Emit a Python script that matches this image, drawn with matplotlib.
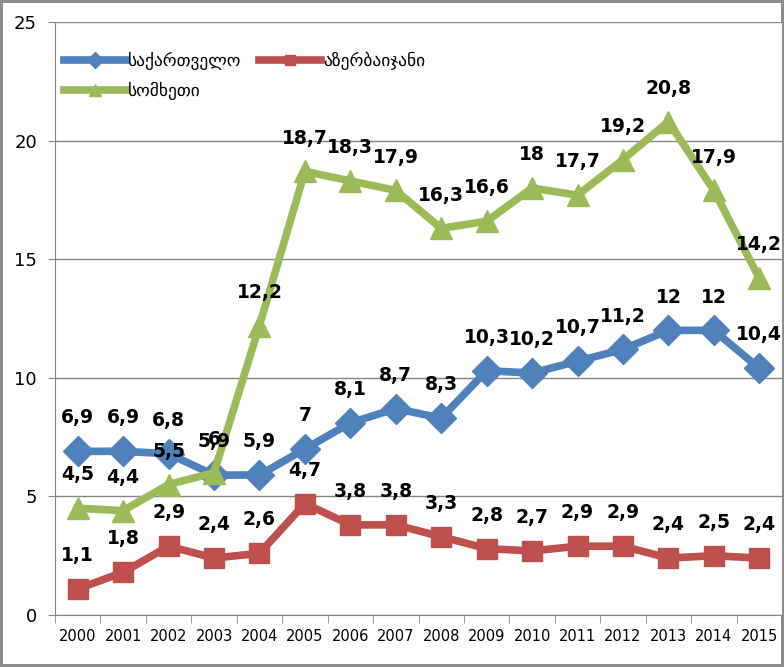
import matplotlib
matplotlib.use("Agg")
import matplotlib.pyplot as plt
import numpy as np

years = [str(y) for y in range(2000, 2016)]
georgia = [6.9, 6.9, 6.8, 5.9, 5.9, 7, 8.1, 8.7, 8.3, 10.3, 10.2, 10.7, 11.2, 12, 12, 10.4]
azerbaijan = [1.1, 1.8, 2.9, 2.4, 2.6, 4.7, 3.8, 3.8, 3.3, 2.8, 2.7, 2.9, 2.9, 2.4, 2.5, 2.4]
armenia = [4.5, 4.4, 5.5, 6, 12.2, 18.7, 18.3, 17.9, 16.3, 16.6, 18, 17.7, 19.2, 20.8, 17.9, 14.2]
names = ["საქართველო", "აზერბაიჯანი", "სომხეთი"]

plt.rcParams["font.family"] = ["DejaVu Sans"]

fig = plt.figure(figsize=(7.84, 6.67), dpi=100)
fig.patch.set_edgecolor("#8c8c8c")
fig.patch.set_linewidth(3)
ax = fig.add_axes([55 / 784, 1 - 615 / 667, 727 / 784, 593 / 667])

x = np.arange(len(years))
series = [
    (georgia, "#4F81BD", "D", 15),
    (azerbaijan, "#C0504D", "s", 14),
    (armenia, "#9BBB59", "^", 16),
]
lines = []
for (vals, color, marker, ms), name in zip(series, names):
    ln, = ax.plot(x, vals, color=color, lw=5.5, marker=marker, ms=ms,
                  markeredgecolor=color, label=name, zorder=3)
    lines.append(ln)
    for xi, v in zip(x, vals):
        txt = f"{v:g}".replace(".", ",")
        ax.annotate(txt, (xi, v), xytext=(0, 24), textcoords="offset points",
                    ha="center", va="center", fontsize=13.5, fontweight="bold",
                    color="black", zorder=4)

ax.set_xlim(-0.5, 15.5)
ax.set_ylim(0, 25)
ax.set_yticks(range(0, 26, 5))
ax.set_xticks(x)
ax.set_xticklabels(years, fontsize=10.5)
ax.set_xticks(np.arange(-0.5, 16, 1), minor=True)
ax.tick_params(axis="x", which="major", length=0, pad=10)
ax.tick_params(axis="x", which="minor", length=6, color="#868686")
ax.tick_params(axis="y", labelsize=13, length=5, color="#868686", pad=8)
ax.grid(axis="y", color="#868686", lw=1)
ax.set_axisbelow(True)
for s in ["top", "right"]:
    ax.spines[s].set_visible(False)
for s in ["left", "bottom"]:
    ax.spines[s].set_color("#868686")

# row-wise order like the original: Georgia, Azerbaijan / Armenia
order = [lines[0], lines[2], lines[1]]
ax.legend(order, [l.get_label() for l in order], loc="upper left",
          bbox_to_anchor=(0.0, 0.965), ncol=2, frameon=False,
          fontsize=12.5, handlelength=3.6, markerscale=0.55, columnspacing=1.0,
          handletextpad=0.1, borderaxespad=0.1, labelspacing=0.7)

fig.savefig("out.png", dpi=100)
